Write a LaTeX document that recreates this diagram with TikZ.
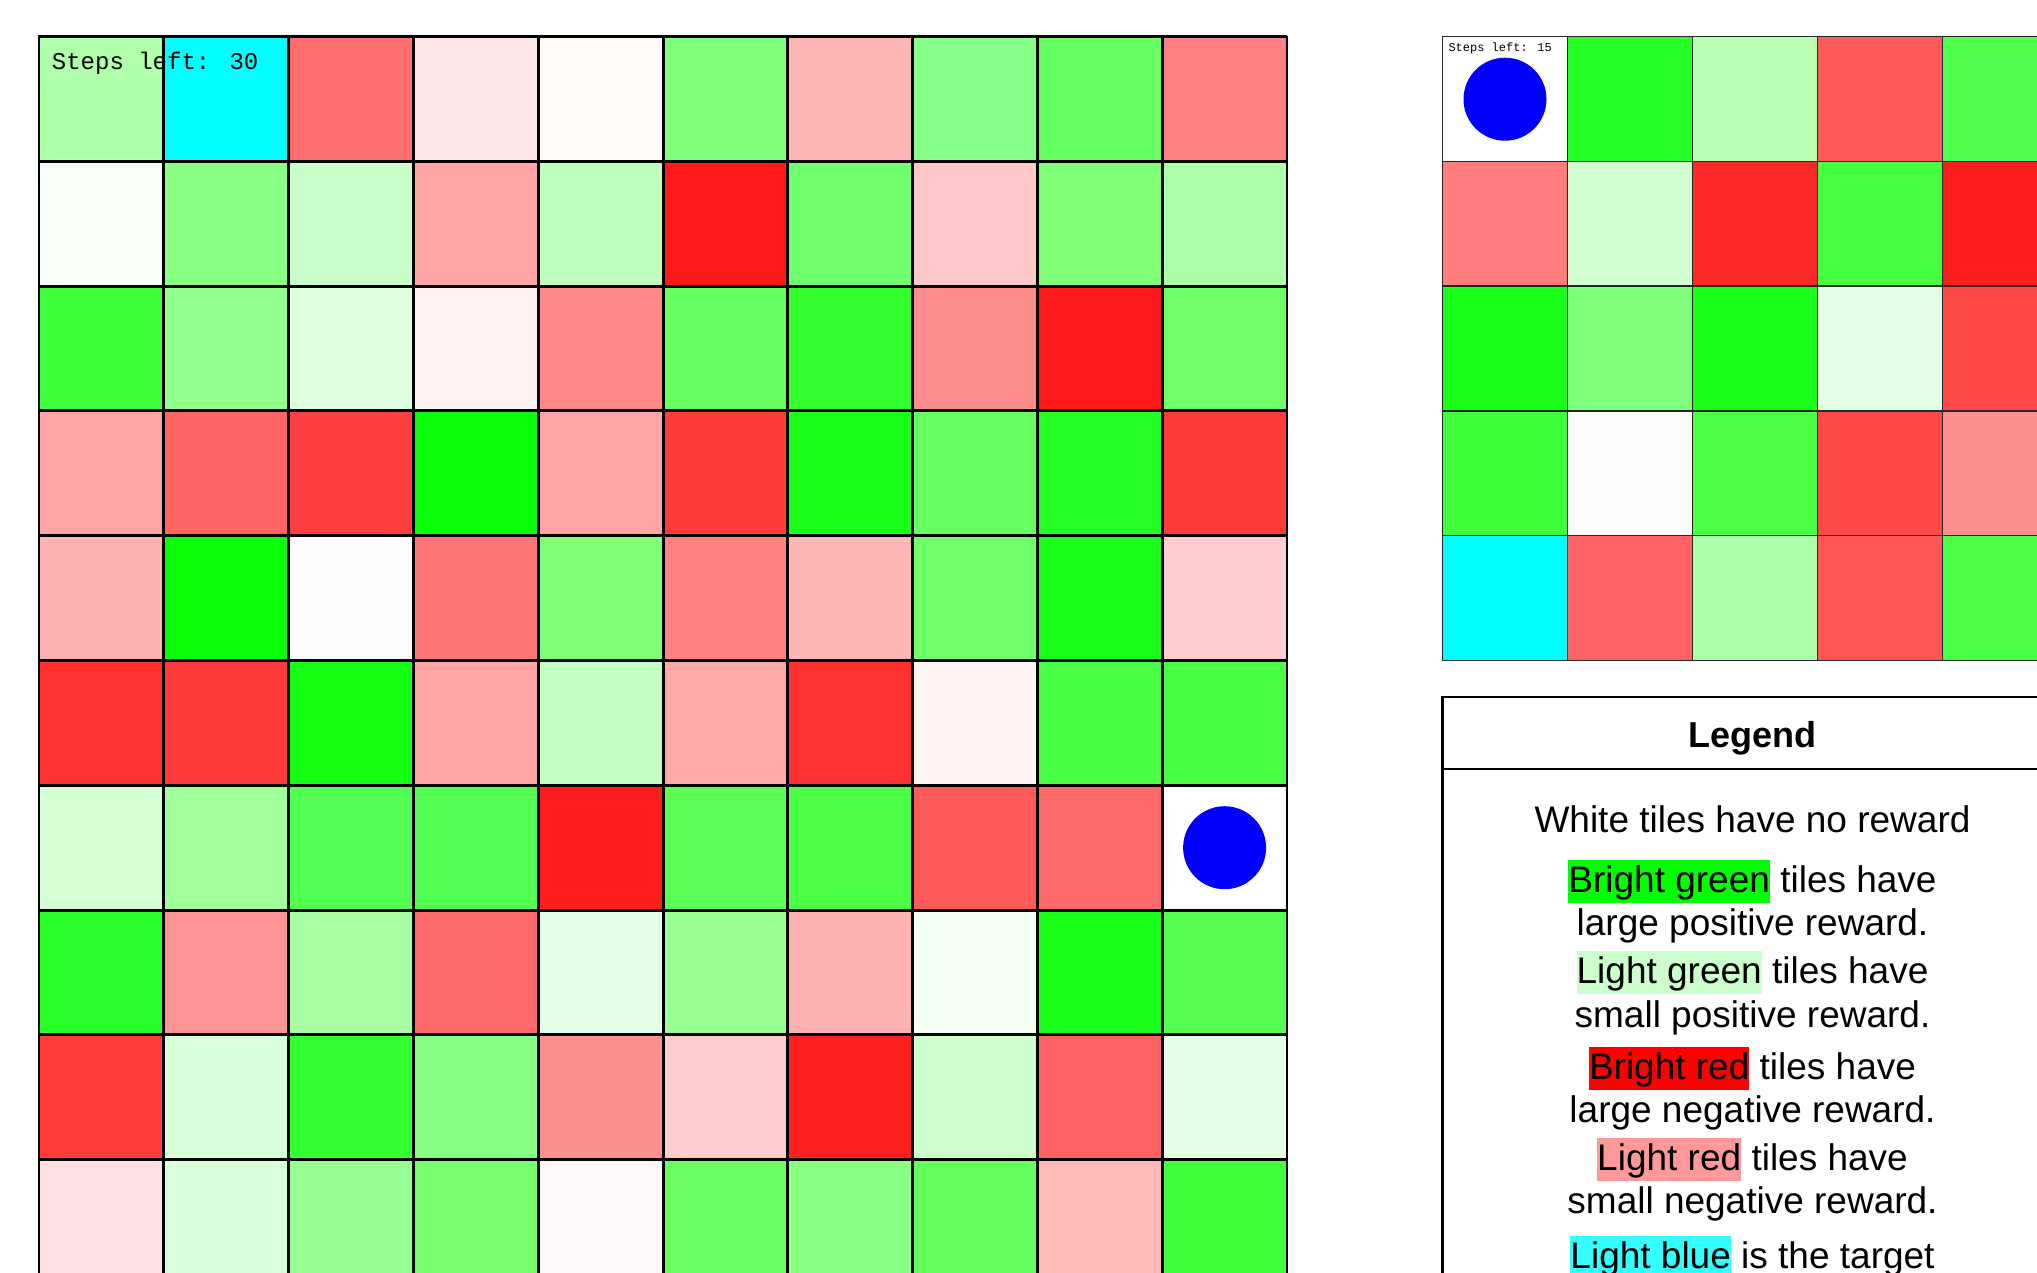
\documentclass[tikz,border=0pt]{standalone}
\usepackage{fontspec}
\newfontfamily\lsans{Liberation Sans}
\newfontfamily\lmono{Liberation Mono}
\definecolor{hlBG}{HTML}{00FF00}
\definecolor{hlLG}{HTML}{CCFFCC}
\definecolor{hlBR}{HTML}{FF0000}
\definecolor{hlLR}{HTML}{FF9999}
\definecolor{hlLB}{HTML}{33FFFF}
\newcommand\hlt[2]{{\setlength{\fboxsep}{0pt}\colorbox{#1}{\rule[-10.5pt]{0pt}{43pt}#2}}}
\tikzset{
  biggrid/.style={line width=3pt, black},
  smallgrid/.style={line width=1.5pt, black!85},
  legtext/.style={anchor=base, inner sep=0pt, font=\lsans\fontsize{37}{43}\selectfont},
  legtitle/.style={anchor=base, inner sep=0pt, font=\lsans\bfseries\fontsize{36}{42}\selectfont},
  stepsbig/.style={anchor=base west, inner sep=0pt, font=\lmono\fontsize{24}{28}\selectfont},
  stepssmall/.style={anchor=base west, inner sep=0pt, font=\lmono\fontsize{12}{14}\selectfont},
  agent/.style={circle, fill={rgb,255:red,0;green,0;blue,255}, draw=none, minimum size=83pt, inner sep=0pt},
  legbox/.style={line width=2.5pt, black}
}
\begin{document}
\begin{tikzpicture}[x=1pt,y=-1pt]
\useasboundingbox (0,0) rectangle (2037,1273);
\fill[white] (0,0) rectangle (2037,1273);
\clip (0,0) rectangle (2037,1273);
% ---------- big grid ----------
\def\bx{39}\def\by{36.5}\def\bs{124.8}
\foreach \row [count=\r from 0] in {
 {B0FFAA,00FFFF,FF6E6E,FFE6E6,FFFAF8,80FF7A,FFB6B6,88FF88,66FF60,FF8080},
 {F8FFF8,8AFF82,C8FFC8,FFA5A5,BEFFBE,FF1919,70FF6E,FFC8C8,80FF78,ACFFAA},
 {40FF3C,94FF8C,DEFFDE,FFF2F2,FF8888,66FF5F,30FF2D,FF8C8C,FF1919,6EFF69},
 {FFA5A5,FF6464,FF4040,0AFF0A,FFA5A5,FF3A3A,19FF19,66FF5F,23FF23,FF3A3A},
 {FFB0B0,08FF08,FCFCFC,FF7474,7EFF76,FF8080,FFB6B6,6EFF69,19FF19,FFCDCD},
 {FF3030,FF3A3A,14FF14,FFA5A5,C3FFC3,FFAAAA,FF3030,FFF3F3,48FF44,48FF44},
 {D4FFD4,A0FF9B,52FF50,52FF50,FF1C1C,5AFF55,4BFF46,FF5A5A,FF6969,FFFFFF},
 {28FF28,FF9494,A8FFA2,FF6969,E4FFE4,98FF91,FFB0B0,F4FFF4,19FF19,55FF50},
 {FF3C3C,D8FFD8,32FF32,87FF80,FF8E8E,FFCDCD,FF2020,CDFFCD,FF6262,E4FFE4},
 {FFE1E1,D8FFD8,96FF91,78FF70,FFF8F8,6CFF64,8AFF82,64FF5C,FFB8B8,41FF3C}}
{
  \foreach \h [count=\c from 0] in \row {
    \definecolor{cc}{HTML}{\h}
    \fill[cc] (\bx+\c*\bs,\by+\r*\bs) rectangle ++(\bs,\bs);
  }
}
\foreach \i in {1,...,9} {
  \draw[biggrid] (\bx+\i*\bs,\by) -- (\bx+\i*\bs,\by+10*\bs);
  \draw[biggrid] (\bx,\by+\i*\bs) -- (\bx+10*\bs,\by+\i*\bs);
}
\draw[line width=2.5pt] (\bx,\by+10*\bs) -- (\bx,\by) -- (\bx+10*\bs,\by);
\draw[line width=1.2pt] (\bx+10*\bs,\by) -- (\bx+10*\bs,\by+10*\bs);
\node[stepsbig] (stepsA) at (51.7,69.5) {Steps left: 30};
\node[agent] (agentA) at (\bx+9.5*\bs,\by+6.5*\bs) {};
% ---------- small grid ----------
\def\sx{1442.5}\def\sy{36.5}\def\sw{125}\def\sh{124.8}
\foreach \row [count=\r from 0] in {
 {FFFFFF,24FF24,B8FFB4,FF5A5A,50FF4B},
 {FF7D7D,D2FFD2,FF2828,46FF41,FF1E1E},
 {19FF19,80FF7D,19FF19,E4FFE4,FF4848},
 {3EFF3A,FCFCFC,4BFF46,FF4848,FF8E8E},
 {00FFFF,FF6262,ACFFA8,FF5555,4BFF46}}
{
  \foreach \h [count=\c from 0] in \row {
    \definecolor{cc}{HTML}{\h}
    \fill[cc] (\sx+\c*\sw,\sy+\r*\sh) rectangle ++(\sw,\sh);
  }
}
\foreach \i in {1,...,4} {
  \draw[smallgrid] (\sx+\i*\sw,\sy) -- (\sx+\i*\sw,\sy+5*\sh);
  \draw[smallgrid] (\sx,\sy+\i*\sh) -- (\sx+5*\sw,\sy+\i*\sh);
}
\draw[line width=1.2pt, black!85] (\sx+5*\sw,\sy) -- (\sx,\sy) -- (\sx,\sy+5*\sh) -- (\sx+5*\sw,\sy+5*\sh);
\node[stepssmall] (stepsB) at (1448.3,52) {Steps left: 15};
\node[agent] (agentB) at (\sx+0.5*\sw,\sy+0.5*\sh+0.3) {};
% ---------- legend ----------
\draw[legbox] (2080,697) -- (1442.5,697) -- (1442.5,1300);
\draw[legbox] (1442.5,769) -- (2080,769);
\node[legtitle] (legT) at (1752.5,747) {Legend};
\node[legtext] (l1) at (1752.5,832.4) {White tiles have no reward};
\node[legtext] (l2) at (1752.5,892.5) {\hlt{hlBG}{Bright green} tiles have};
\node[legtext] (l3) at (1752.5,935.9) {large positive reward.};
\node[legtext] (l4) at (1752.5,983.4) {\hlt{hlLG}{Light green} tiles have};
\node[legtext] (l5) at (1752.5,1027) {small positive reward.};
\node[legtext] (l6) at (1752.5,1079) {\hlt{hlBR}{Bright red} tiles have};
\node[legtext] (l7) at (1752.5,1122.6) {large negative reward.};
\node[legtext] (l8) at (1752.5,1170) {\hlt{hlLR}{Light red} tiles have};
\node[legtext] (l9) at (1752.5,1213.5) {small negative reward.};
\node[legtext] (l10) at (1752.5,1268) {\hlt{hlLB}{Light blue} is the target};
\end{tikzpicture}
\end{document}
